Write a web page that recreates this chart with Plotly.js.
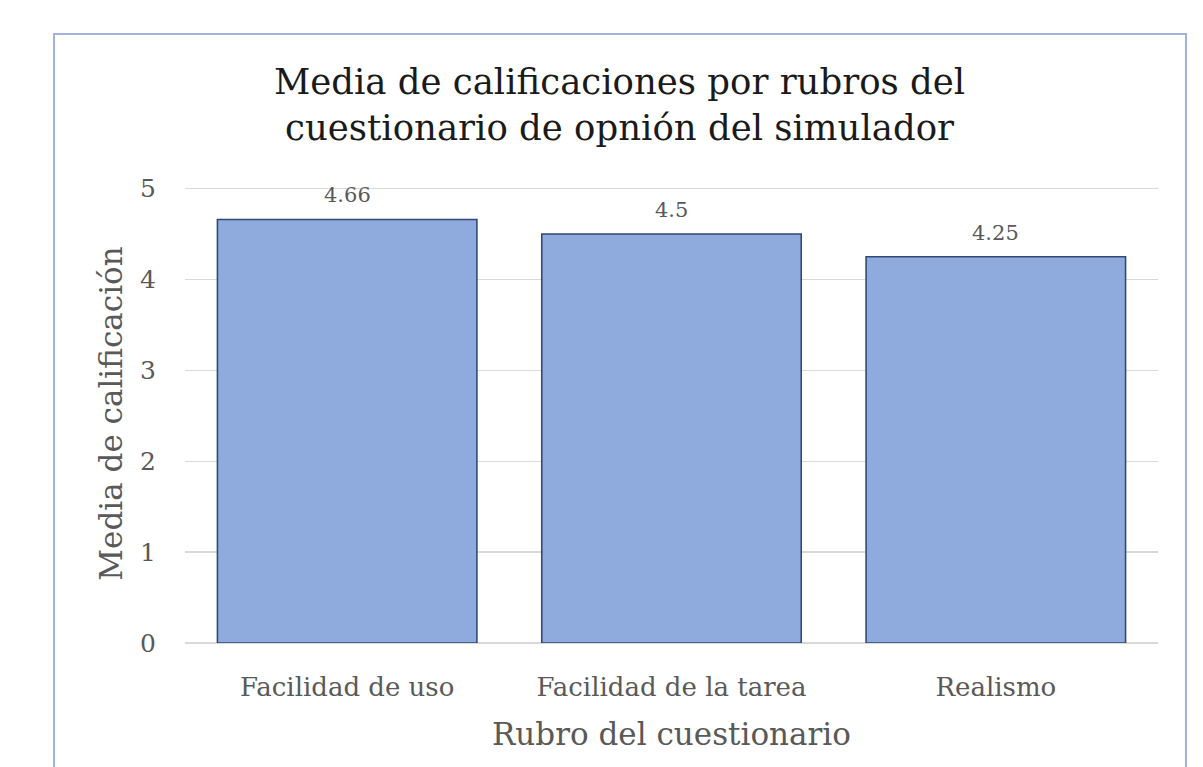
<!DOCTYPE html>
<html>
<head>
<meta charset="utf-8">
<script src="https://cdn.plot.ly/plotly-3.0.1.min.js"></script>
<style>
html,body{margin:0;padding:0;background:#fff;}
#wrap{position:relative;width:1203px;height:767px;overflow:hidden;}
#chart{position:absolute;left:0;top:0;width:1203px;height:767px;}
#frame{position:absolute;left:53px;top:33px;width:1130px;height:800px;border:2px solid #9fb4e2;pointer-events:none;}
</style>
</head>
<body>
<div id="wrap"><div id="chart"></div><div id="frame"></div></div>
<script>
const categories = ["Facilidad de uso", "Facilidad de la tarea", "Realismo"];
const values = [4.66, 4.5, 4.25];
const valueLabels = ["4.66", "4.5", "4.25"];
const yTicks = [0, 1, 2, 3, 4, 5];

const serif = "DejaVu Serif, Liberation Serif, serif";

const trace = {
  type: "bar",
  x: categories,
  y: values,
  marker: {color: "#8faadc", line: {color: "#2f4a74", width: 1.6}},
  hoverinfo: "x+y"
};

const labelAnnotations = categories.map((c, i) => ({
  x: c, y: values[i], xref: "x", yref: "y",
  text: valueLabels[i], showarrow: false,
  yanchor: "bottom", yshift: 10,
  font: {family: serif, size: 21, color: "#595959"}
}));

const layout = {
  width: 1203, height: 767,
  margin: {l: 185, r: 45, t: 183.5, b: 124},
  paper_bgcolor: "rgba(0,0,0,0)",
  plot_bgcolor: "#fff",
  bargap: 0.2,
  showlegend: false,
  annotations: labelAnnotations,
  title: {
    text: "Media de calificaciones por rubros del<br>cuestionario de opnión del simulador",
    font: {family: serif, size: 35.5, color: "#1a1a1a"},
    xref: "container", x: 0.515, xanchor: "center",
    yref: "container", y: 0.878, yanchor: "top"
  },
  xaxis: {
    type: "category",
    tickfont: {family: serif, size: 26, color: "#595959"},
    ticklabelstandoff: 26,
    showline: false, showgrid: false, zeroline: false,
    title: {text: "Rubro del cuestionario", font: {family: serif, size: 31, color: "#595959"}, standoff: 22}
  },
  yaxis: {
    range: [0, 5.05],
    tickvals: yTicks,
    ticktext: yTicks.map(String),
    tickfont: {family: serif, size: 25, color: "#595959"},
    ticklabelstandoff: 28,
    showgrid: true, gridcolor: "#d9d9d9", gridwidth: 1.3,
    zeroline: true, zerolinecolor: "#d9d9d9", zerolinewidth: 1.3,
    showline: false,
    title: {text: "Media de calificación", font: {family: serif, size: 31, color: "#595959"}, standoff: 8}
  }
};

Plotly.newPlot("chart", [trace], layout, {displayModeBar: false, staticPlot: true});
</script>
</body>
</html>
